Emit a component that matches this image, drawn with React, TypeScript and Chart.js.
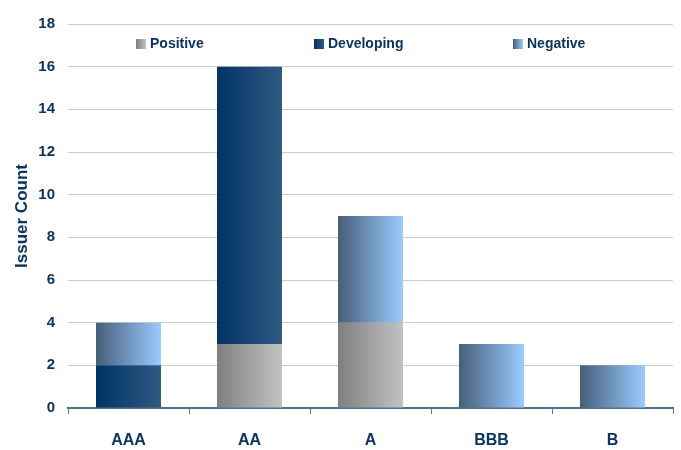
import React, { useEffect, useRef } from "react";
import { Chart, registerables } from "chart.js";

Chart.register(...registerables);

const categories = ["AAA", "AA", "A", "BBB", "B"];
const positive = [0, 3, 4, 0, 0];
const developing = [2, 13, 0, 0, 0];
const negative = [2, 0, 5, 3, 2];
const yTicks = [0, 2, 4, 6, 8, 10, 12, 14, 16, 18];

const NAVY = "#0b3466";
const FONT = "'Liberation Sans', Arial, sans-serif";
const BAR_PCT = 0.537;

// Colour stops for each series, left edge to right edge of a bar
const palette: Record<string, [string, string]> = {
  Positive: ["#7f7f7f", "#c2c2c2"],
  Developing: ["#003366", "#2f5a82"],
  Negative: ["#475e7a", "#99ccff"],
};

function barGradient(name: string) {
  return (ctx: any) => {
    const chart = ctx.chart;
    const xs = chart.scales?.x;
    const [c0, c1] = palette[name];
    if (!chart.chartArea || !xs || ctx.dataIndex === undefined) return c0;
    const cx = xs.getPixelForValue(ctx.dataIndex);
    const half = (xs.width / categories.length) * BAR_PCT / 2;
    const g = chart.ctx.createLinearGradient(cx - half, 0, cx + half, 0);
    g.addColorStop(0, c0);
    g.addColorStop(1, c1);
    return g;
  };
}

// Legend drawn inside the plot area, near the top
const insideLegend = {
  id: "insideLegend",
  afterDraw(chart: any) {
    const { ctx, chartArea } = chart;
    const items: [string, number][] = [
      ["Positive", 68],
      ["Developing", 246],
      ["Negative", 445],
    ];
    const y = chartArea.top + 20;
    ctx.save();
    ctx.font = `bold 14px ${FONT}`;
    ctx.textBaseline = "middle";
    ctx.textAlign = "left";
    for (const [name, off] of items) {
      const x = chartArea.left + off;
      const [c0, c1] = palette[name];
      const g = ctx.createLinearGradient(x, 0, x + 10, 0);
      g.addColorStop(0, c0);
      g.addColorStop(1, c1);
      ctx.fillStyle = g;
      ctx.fillRect(x, y - 5, 10, 10);
      ctx.fillStyle = NAVY;
      ctx.fillText(name, x + 14, y);
    }
    ctx.restore();
  },
};

export default function App() {
  const ref = useRef<HTMLCanvasElement | null>(null);

  useEffect(() => {
    if (!ref.current) return;
    const mk = (label: string, data: number[]) => ({
      label,
      data,
      backgroundColor: barGradient(label),
      borderWidth: 0,
      categoryPercentage: 1,
      barPercentage: BAR_PCT,
    });
    const chart = new Chart(ref.current, {
      type: "bar",
      data: {
        labels: categories,
        datasets: [
          mk("Positive", positive),
          mk("Developing", developing),
          mk("Negative", negative),
        ],
      },
      options: {
        animation: false,
        responsive: false,
        layout: { padding: { top: 24, right: 8, bottom: 0, left: 12 } },
        plugins: {
          legend: { display: false },
          tooltip: { enabled: false },
        },
        scales: {
          x: {
            stacked: true,
            afterFit: (s: any) => {
              s.height = 42;
            },
            grid: {
              display: true,
              drawOnChartArea: false,
              drawTicks: true,
              tickLength: 6,
              color: "#5d7c9c",
              offset: true,
            },
            border: { display: true, color: "#4f7194", width: 2 },
            ticks: {
              color: NAVY,
              font: { family: FONT, size: 16, weight: "bold" },
              padding: 17,
            },
          },
          y: {
            stacked: true,
            min: 0,
            max: 18,
            afterFit: (s: any) => {
              s.width = 56;
            },
            afterBuildTicks: (s: any) => {
              s.ticks = yTicks.map((v) => ({ value: v }));
            },
            grid: { color: "#cccccc", lineWidth: 1, drawTicks: false },
            border: { display: false },
            ticks: {
              color: NAVY,
              font: { family: FONT, size: 15, weight: "bold" },
              padding: 13,
            },
            title: {
              display: true,
              text: "Issuer Count",
              color: NAVY,
              font: { family: FONT, size: 17, weight: "bold" },
              padding: { top: 0, bottom: 2 },
            },
          },
        },
      },
      plugins: [insideLegend],
    });
    return () => chart.destroy();
  }, []);

  return (
    <div style={{ position: "fixed", left: 0, top: 0, width: 681, height: 450, background: "#fff" }}>
      <canvas ref={ref} width={681} height={450} style={{ display: "block" }} />
    </div>
  );
}
